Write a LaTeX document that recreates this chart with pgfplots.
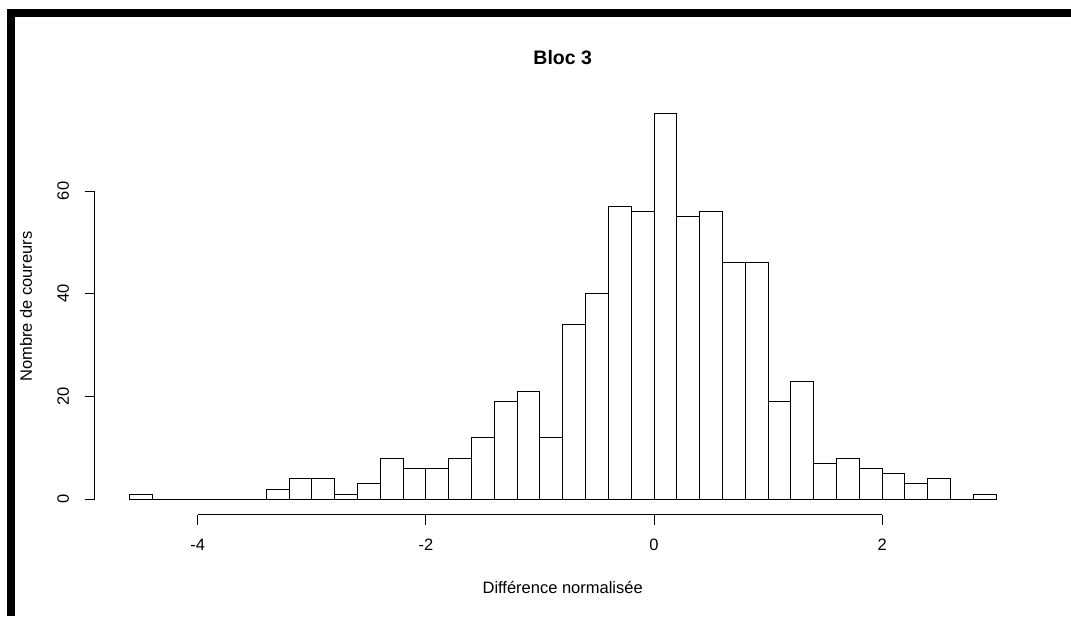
\documentclass[border=0pt]{standalone}
\usepackage{pgfplots}
\pgfplotsset{compat=1.18}
\usepackage{fontspec}
\setmainfont{Liberation Sans}
\begin{document}
\begin{tikzpicture}[x=1pt,y=1pt]
\path[use as bounding box] (0,0) rectangle (1071,-616);
\fill[white] (0,0) rectangle (1071,-616);
\fill[black] (7,-9) rectangle (1071,-17);
\fill[black] (7,-9) rectangle (15,-616);
\begin{axis}[
  at={(94.7pt,-514.7pt)}, anchor=south west,
  scale only axis, width=936.1pt, height=416.2pt,
  xmin=-4.904, xmax=3.304, ymin=-3, ymax=78,
  axis line style={draw=none},
  xtick={-4,-2,0,2}, ytick={0,20,40,60},
  tick pos=left, tick align=outside,
  major tick length=10pt,
  tick style={black, line width=0.9pt},
  /pgf/number format/assume math mode=true,
  ticklabel style={font=\fontsize{16.5}{19}\selectfont},
  xticklabel style={anchor=center, yshift=-20.5pt},
  yticklabel style={rotate=90, anchor=center, yshift=21.5pt},
  clip=false,
]
\addplot[ybar interval, fill=white, draw=black, line width=0.9pt] coordinates {
(-4.6,1) (-4.4,0) (-4.2,0) (-4.0,0) (-3.8,0) (-3.6,0)
(-3.4,2) (-3.2,4) (-3.0,4) (-2.8,1) (-2.6,3) (-2.4,8)
(-2.2,6) (-2.0,6) (-1.8,8) (-1.6,12) (-1.4,19) (-1.2,21)
(-1.0,12) (-0.8,34) (-0.6,40) (-0.4,57) (-0.2,56) (0.0,75)
(0.2,55) (0.4,56) (0.6,46) (0.8,46) (1.0,19) (1.2,23)
(1.4,7) (1.6,8) (1.8,6) (2.0,5) (2.2,3) (2.4,4)
(2.6,0) (2.8,1) (3.0,1)
};
\draw[black, line width=0.9pt] (axis cs:-4,-3) -- (axis cs:2,-3);
\draw[black, line width=0.9pt] (axis cs:-4.904,0) -- (axis cs:-4.904,60);
\end{axis}
\node[font=\bfseries\fontsize{19.5}{23}\selectfont] at (562.7,-57.5) {Bloc 3};
\node[font=\fontsize{16.5}{19}\selectfont] at (562.7,-587) {Différence normalisée};
\node[font=\fontsize{16.5}{19}\selectfont, rotate=90] at (26,-306.6) {Nombre de coureurs};
\end{tikzpicture}
\end{document}
